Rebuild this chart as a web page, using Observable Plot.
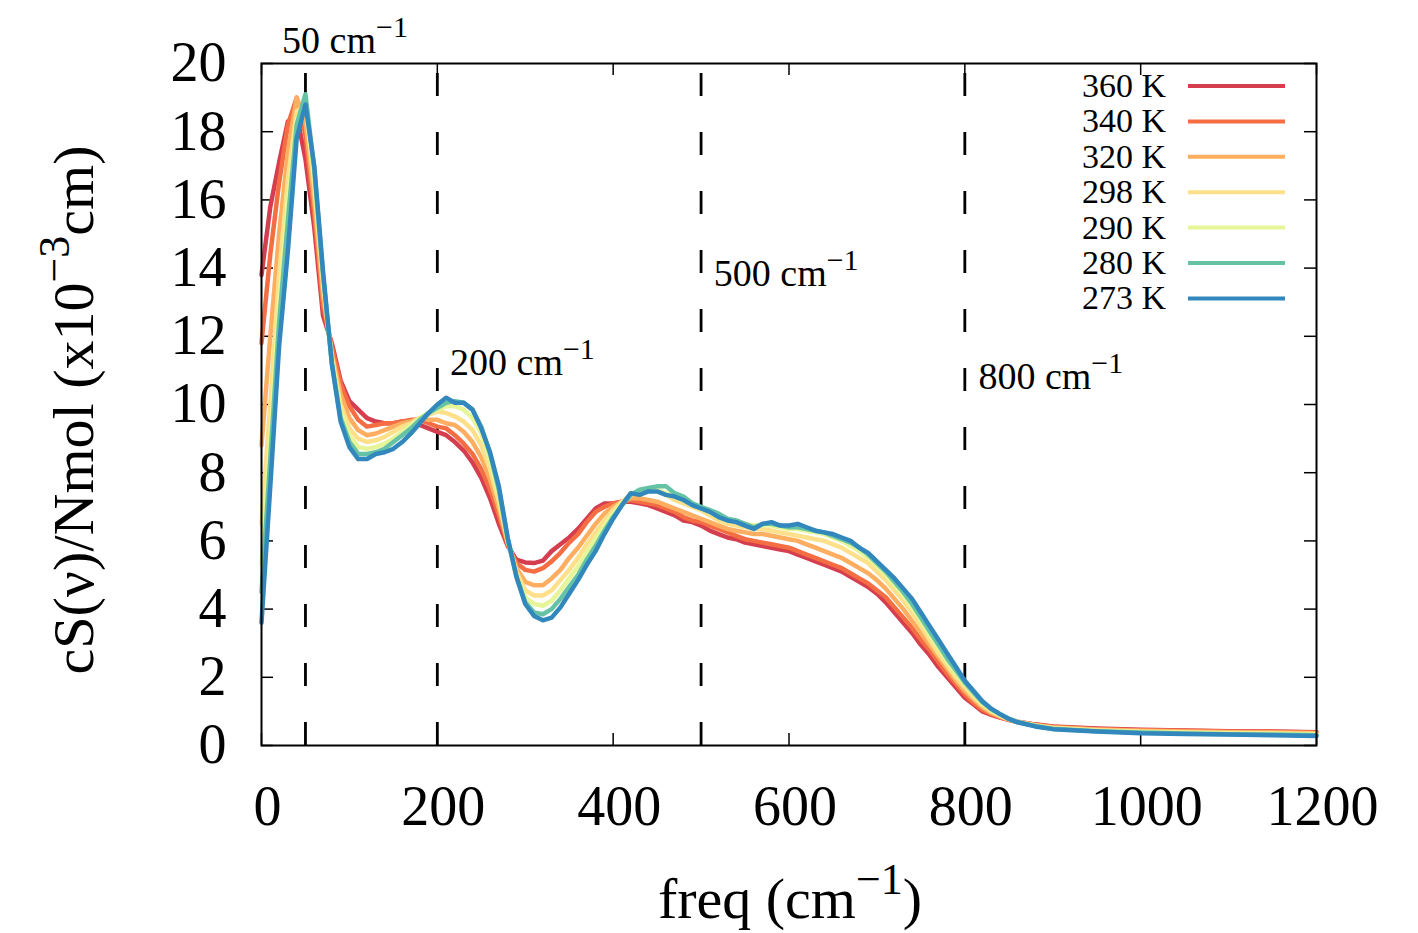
<!DOCTYPE html>
<html><head><meta charset="utf-8">
<script src="https://cdn.jsdelivr.net/npm/d3@7"></script>
<script src="https://cdn.jsdelivr.net/npm/@observablehq/plot@0.6"></script>
<style>body{margin:0;background:#fff}</style>
</head><body><div id="chart"></div>
<script>
const freq = [0,10,20,30,40,50,60,70,80,90,100,110,120,130,140,150,160,170,180,190,200,210,220,230,240,250,260,270,280,290,300,310,320,330,340,350,360,370,380,390,400,410,420,430,440,450,460,470,480,490,500,510,520,530,540,550,560,570,580,590,600,610,620,630,640,650,660,670,680,690,700,710,720,730,740,750,760,770,780,790,800,810,820,830,840,850,860,880,900,950,1000,1050,1100,1150,1200];

const s360 = [13.8,15.8,17.1,18.3,18.5,17.2,15.2,12.6,11.8,10.7,
 10.1,9.85,9.6,9.5,9.45,9.45,9.5,9.45,9.4,9.3,
 9.2,9.1,8.9,8.65,8.3,7.85,7.25,6.5,5.85,5.45,
 5.37,5.35,5.42,5.7,5.9,6.1,6.35,6.65,6.95,7.1,
 7.1,7.15,7.15,7.1,7.05,6.95,6.85,6.75,6.6,6.55,
 6.45,6.3,6.2,6.1,6.05,5.95,5.9,5.85,5.8,5.75,
 5.7,5.6,5.5,5.4,5.3,5.2,5.1,4.95,4.8,4.65,
 4.45,4.2,3.9,3.6,3.3,2.95,2.65,2.3,2.0,1.7,
 1.4,1.2,1.0,0.9,0.82,0.75,0.7,
 0.62,0.56,0.5,0.46,0.44,0.42,0.41,0.39];
const s340 = [11.8,14.4,16.5,18.2,19.0,17.9,15.6,12.9,11.7,10.6,
 9.95,9.55,9.35,9.4,9.45,9.45,9.5,9.55,9.55,9.45,
 9.35,9.3,9.1,8.85,8.55,8.1,7.5,6.75,5.9,5.35,
 5.15,5.1,5.2,5.4,5.65,5.95,6.2,6.55,6.85,7.0,
 7.1,7.15,7.2,7.15,7.1,7.05,6.95,6.85,6.7,6.6,
 6.55,6.45,6.35,6.25,6.15,6.05,6.0,5.95,5.9,5.85,
 5.8,5.7,5.6,5.5,5.4,5.3,5.2,5.05,4.9,4.75,
 4.55,4.35,4.05,3.75,3.45,3.1,2.8,2.45,2.1,1.8,
 1.5,1.25,1.05,0.92,0.83,0.75,0.69,
 0.61,0.55,0.48,0.45,0.43,0.41,0.4,0.38];
const s320 = [8.8,12.0,15.0,17.4,19.0,18.3,16.0,13.2,11.5,10.3,
 9.6,9.25,9.1,9.15,9.25,9.35,9.45,9.5,9.6,9.55,
 9.55,9.45,9.4,9.2,8.9,8.45,7.8,6.95,5.95,5.2,
 4.8,4.7,4.7,4.9,5.15,5.5,5.8,6.15,6.5,6.8,
 7.0,7.15,7.25,7.25,7.2,7.15,7.05,6.95,6.85,6.75,
 6.65,6.55,6.45,6.35,6.3,6.25,6.2,6.2,6.15,6.1,
 6.05,6.0,5.9,5.8,5.7,5.6,5.5,5.35,5.2,5.05,
 4.85,4.6,4.3,4.0,3.65,3.3,2.95,2.6,2.25,1.9,
 1.6,1.35,1.12,0.96,0.85,0.76,0.69,
 0.6,0.53,0.47,0.43,0.41,0.39,0.38,0.36];
const s298 = [6.5,10.0,13.8,16.6,18.6,18.8,16.4,13.5,11.4,10.0,
 9.3,9.0,8.9,8.95,9.05,9.2,9.35,9.45,9.6,9.7,
 9.8,9.75,9.65,9.5,9.25,8.8,8.1,7.15,6.0,5.1,
 4.55,4.4,4.4,4.55,4.85,5.15,5.5,5.9,6.25,6.6,
 6.9,7.15,7.35,7.45,7.55,7.45,7.35,7.2,7.1,7.0,
 6.9,6.75,6.6,6.5,6.45,6.4,6.35,6.35,6.3,6.25,
 6.2,6.15,6.1,6.05,6.0,5.9,5.8,5.65,5.5,5.35,
 5.1,4.85,4.55,4.25,3.9,3.5,3.1,2.7,2.35,2.0,
 1.7,1.42,1.18,1.0,0.87,0.77,0.69,
 0.59,0.52,0.45,0.41,0.39,0.37,0.36,0.34];
const s290 = [5.3,9.0,13.0,16.0,18.3,19.0,16.7,13.7,11.3,9.8,
 9.1,8.75,8.7,8.75,8.85,9.0,9.2,9.4,9.6,9.75,
 9.85,9.95,9.95,9.85,9.6,9.15,8.35,7.35,6.05,5.0,
 4.35,4.15,4.1,4.25,4.55,4.9,5.25,5.65,6.05,6.45,
 6.8,7.1,7.35,7.45,7.5,7.5,7.4,7.3,7.2,7.05,
 6.95,6.85,6.7,6.6,6.55,6.5,6.45,6.45,6.45,6.4,
 6.35,6.35,6.3,6.25,6.2,6.1,6.0,5.85,5.7,5.5,
 5.25,5.0,4.7,4.4,4.05,3.65,3.25,2.85,2.45,2.1,
 1.8,1.5,1.23,1.04,0.9,0.78,0.69,
 0.58,0.5,0.43,0.39,0.37,0.35,0.34,0.32];
const s280 = [4.5,8.4,12.4,15.4,18.2,19.1,16.9,13.8,11.2,9.6,
 8.9,8.55,8.55,8.6,8.7,8.9,9.1,9.3,9.55,9.75,
 9.9,10.05,10.1,10.05,9.85,9.35,8.55,7.5,6.05,4.95,
 4.2,3.9,3.85,4.0,4.3,4.65,5.0,5.45,5.85,6.3,
 6.7,7.05,7.35,7.5,7.55,7.6,7.6,7.4,7.3,7.1,
 7.0,6.9,6.8,6.65,6.6,6.5,6.4,6.5,6.5,6.45,
 6.4,6.4,6.35,6.3,6.25,6.15,6.05,5.95,5.8,5.6,
 5.35,5.1,4.8,4.5,4.15,3.75,3.35,2.95,2.55,2.2,
 1.85,1.55,1.27,1.07,0.92,0.79,0.69,
 0.57,0.49,0.42,0.38,0.35,0.33,0.32,0.3];
const s273 = [3.6,7.6,11.7,14.5,17.8,18.8,17.0,13.9,11.2,9.5,
 8.75,8.4,8.4,8.55,8.6,8.7,8.9,9.15,9.45,9.75,
 10.0,10.2,10.05,10.05,9.85,9.3,8.6,7.6,6.1,4.95,
 4.15,3.8,3.67,3.75,4.05,4.45,4.85,5.3,5.7,6.2,
 6.65,7.05,7.4,7.35,7.45,7.45,7.35,7.3,7.2,7.05,
 6.95,6.85,6.7,6.6,6.55,6.45,6.35,6.5,6.55,6.45,
 6.45,6.5,6.4,6.3,6.25,6.2,6.1,6.0,5.8,5.65,
 5.4,5.15,4.9,4.6,4.3,3.9,3.5,3.1,2.7,2.3,
 1.9,1.6,1.3,1.08,0.92,0.78,0.68,
 0.56,0.48,0.41,0.36,0.34,0.32,0.3,0.28];

const temps = ["360 K","340 K","320 K","298 K","290 K","280 K","273 K"];
const colors = ["#d53e4f","#f46d43","#fdae61","#fee08b","#e6f598","#66c2a5","#3288bd"];
const series = [s360,s340,s320,s298,s290,s280,s273];
const xTicks = [0,200,400,600,800,1000,1200];
const yTicks = [0,2,4,6,8,10,12,14,16,18,20];
const markerFreqs = [50,200,500,800];
const annotText = ["50 cm","200 cm","500 cm","800 cm"];
const annotX = [24,215,515,816];
const annotY = [20.3,10.85,13.45,10.45];

const rows = [];
series.forEach((s,i) => s.forEach((v,j) => rows.push({freq: freq[j], value: v, temp: temps[i]})));

const W = 1418, H = 933, mL = 261, mR = 102, mT = 63, mB = 188;
const fw = W - mL - mR, fh = H - mT - mB;
const FONT = '"Liberation Serif", "Times New Roman", serif';

const plot = Plot.plot({
  width: W, height: H,
  marginLeft: mL, marginRight: mR, marginTop: mT, marginBottom: mB,
  style: {fontFamily: FONT, color: "black", background: "white"},
  x: {domain: [0,1200], label: null},
  y: {domain: [0,20], label: null},
  color: {domain: temps, range: colors},
  marks: [
    Plot.ruleX(markerFreqs, {x: d => d, y1: 0, y2: 20, stroke: "black", strokeWidth: 2.8, strokeDasharray: "23,36"}),
    Plot.ruleY(yTicks, {y: d => d, insetRight: fw - 12, stroke: "black", strokeWidth: 1.5}),
    Plot.ruleY(yTicks, {y: d => d, insetLeft: fw - 12, stroke: "black", strokeWidth: 1.5}),
    Plot.ruleX(xTicks, {x: d => d, insetTop: fh - 12, stroke: "black", strokeWidth: 1.5}),
    Plot.ruleX(xTicks, {x: d => d, insetBottom: fh - 12, stroke: "black", strokeWidth: 1.5}),
    Plot.line(rows, {x: "freq", y: "value", z: "temp", stroke: "temp", strokeWidth: 4.5, strokeLinejoin: "round", strokeLinecap: "round"}),
    Plot.frame({stroke: "black", strokeWidth: 2}),
    Plot.axisX({ticks: xTicks, tickSize: 0, tickPadding: 40, fontSize: 56, label: null, dx: 6, tickFormat: d => String(d)}),
    Plot.axisY({ticks: yTicks, tickSize: 0, tickPadding: 35, fontSize: 56, label: null, tickFormat: d => String(d)})
  ]
});
document.getElementById("chart").appendChild(plot);

const svg = d3.select(plot);
const xs = plot.scale("x"), ys = plot.scale("y");

// annotations
annotText.forEach((t, i) => {
  const tx = svg.append("text")
    .attr("x", xs.apply(annotX[i])).attr("y", ys.apply(annotY[i]))
    .attr("text-anchor", "start")
    .attr("font-family", FONT).attr("font-size", 38).attr("fill", "black");
  tx.append("tspan").text(t);
  tx.append("tspan").attr("dy", -16).attr("font-size", 30).text("\u22121");
});

// y label
const yl = svg.append("text")
  .attr("transform", `translate(93,${(mT + H - mB) / 2 + 6}) rotate(-90)`)
  .attr("text-anchor", "middle").attr("font-family", FONT).attr("font-size", 58).attr("fill", "black");
yl.append("tspan").text("cS(\u03bd)/Nmol (x10");
yl.append("tspan").attr("dy", -24).attr("font-size", 44).text("\u22123");
yl.append("tspan").attr("dy", 24).text("cm)");

// x label
const xl = svg.append("text")
  .attr("x", 790).attr("y", 918)
  .attr("text-anchor", "middle").attr("font-family", FONT).attr("font-size", 58).attr("fill", "black");
xl.append("tspan").text("freq (cm");
xl.append("tspan").attr("dy", -24).attr("font-size", 44).text("\u22121");
xl.append("tspan").attr("dy", 24).text(")");

// legend
temps.forEach((t, i) => {
  const yy = 86 + i * 35.4;
  svg.append("text").attr("x", 1166).attr("y", yy + 11).attr("text-anchor", "end")
    .attr("font-family", FONT).attr("font-size", 34).attr("fill", "black").text(t);
  svg.append("line").attr("x1", 1188).attr("x2", 1285).attr("y1", yy).attr("y2", yy)
    .attr("stroke", colors[i]).attr("stroke-width", 4);
});
</script>
</body></html>
